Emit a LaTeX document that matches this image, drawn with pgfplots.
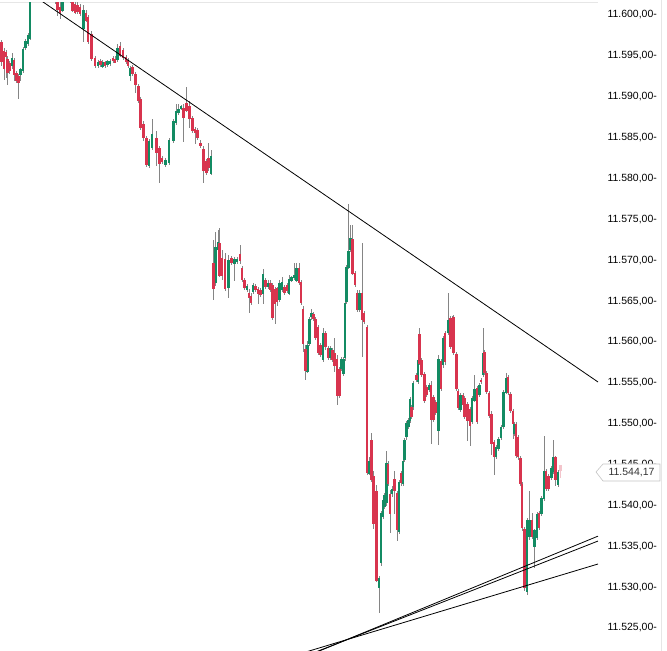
\documentclass[border=0pt]{standalone}
\usepackage{pgfplots}
\pgfplotsset{compat=1.18}
\usepackage{pgfplotstable}
\usepackage{fontspec}
\setmainfont{Liberation Sans}
\definecolor{cgreen}{HTML}{138B63}
\definecolor{cred}{HTML}{D8344E}
\definecolor{cpink}{HTML}{F3C4CB}
\definecolor{cwick}{HTML}{858585}
\definecolor{cgrid}{HTML}{E6E6E6}
\definecolor{ctag}{HTML}{C4C4C4}

\pgfplotstableread{
x o h l c
1.5 11596.70 11596.95 11593.76 11594.25
4 11595.72 11595.97 11592.05 11593.52
6 11595.48 11595.72 11592.30 11594.87
7.5 11594.74 11594.99 11591.44 11593.03
9.5 11594.25 11594.50 11592.91 11593.28
12 11593.76 11595.48 11593.52 11594.74
14 11594.62 11594.87 11592.05 11592.79
16.5 11592.91 11593.15 11591.69 11591.93
18.5 11592.66 11592.91 11589.85 11591.81
20.5 11592.66 11593.64 11592.05 11593.40
23 11593.28 11596.21 11593.03 11595.97
25.5 11595.97 11597.07 11595.72 11596.82
28 11596.58 11597.92 11596.33 11597.68
30 11597.19 11603.55 11596.95 11603.06
33 11603.06 11605.27 11602.82 11604.90
35.5 11604.90 11606.49 11604.53 11606.12
38 11606.12 11606.49 11604.90 11605.27
40.5 11605.27 11607.22 11605.02 11606.73
43 11606.73 11607.22 11605.27 11605.51
45.5 11605.51 11606.12 11603.68 11604.29
48 11604.29 11604.90 11603.06 11603.31
50.5 11603.31 11603.68 11602.21 11602.45
53 11602.57 11603.31 11602.21 11603.06
55.5 11602.82 11603.06 11601.47 11601.84
57.5 11601.60 11602.45 11600.00 11600.62
60 11601.11 11601.84 11599.64 11600.37
62.5 11600.62 11602.82 11600.37 11602.45
65 11602.45 11604.29 11602.21 11603.68
67.5 11603.68 11604.29 11602.45 11602.82
70 11602.82 11603.31 11601.60 11601.96
72.5 11601.84 11602.21 11600.37 11600.62
75 11601.47 11601.84 11600.13 11600.37
77.5 11601.23 11601.60 11600.13 11600.37
80 11601.11 11601.47 11600.00 11600.25
83.5 11598.41 11601.23 11596.70 11600.74
86 11600.37 11600.62 11599.15 11599.39
88 11599.76 11600.00 11596.46 11596.70
91.5 11597.80 11598.17 11594.50 11594.74
95 11594.87 11595.11 11593.64 11593.89
98 11593.76 11594.50 11593.52 11594.25
100.5 11594.38 11594.62 11593.64 11593.89
102.5 11593.64 11594.50 11593.52 11594.25
105 11594.25 11594.50 11593.64 11593.76
107.5 11593.89 11594.62 11593.76 11594.38
110 11594.13 11594.74 11593.89 11594.50
113 11594.87 11595.11 11594.25 11594.50
115 11594.74 11594.99 11594.13 11594.25
117.5 11594.50 11596.46 11594.25 11595.97
120 11596.33 11596.70 11594.87 11595.11
123 11595.72 11595.97 11594.50 11594.74
126 11594.99 11595.23 11594.13 11594.38
128 11594.50 11594.74 11593.52 11593.76
130 11592.66 11593.89 11592.05 11593.64
132.5 11593.64 11593.89 11592.54 11592.79
135.5 11592.91 11593.15 11590.58 11591.56
138.5 11591.44 11591.69 11589.36 11589.61
140.5 11589.85 11590.10 11586.06 11586.30
143.5 11586.79 11587.16 11584.71 11585.08
146.5 11584.96 11585.20 11581.41 11581.65
149 11581.65 11584.96 11581.41 11584.71
152 11583.85 11587.40 11583.61 11585.57
156.5 11585.08 11585.93 11581.65 11583.24
159.5 11583.85 11584.10 11579.57 11581.89
162 11582.51 11582.75 11581.77 11582.02
165.5 11581.65 11582.51 11581.41 11582.26
169 11581.89 11584.96 11581.65 11584.71
173.5 11584.71 11587.40 11584.47 11587.16
176 11586.91 11589.24 11586.67 11588.38
178.5 11588.14 11589.24 11587.89 11588.63
181 11588.63 11589.12 11588.50 11589.00
183.5 11588.63 11589.12 11584.47 11587.40
186.5 11589.36 11591.20 11588.14 11588.38
189.5 11589.00 11589.61 11586.30 11587.40
192.5 11587.53 11587.77 11585.69 11585.93
195 11586.18 11586.42 11584.34 11585.69
197.5 11585.93 11586.18 11584.71 11584.96
200.5 11584.47 11584.71 11583.73 11584.10
203.5 11583.73 11584.10 11579.57 11581.04
206.5 11582.26 11582.51 11580.55 11580.80
208.5 11582.63 11584.47 11581.04 11581.41
211 11580.67 11583.49 11580.43 11582.87
213.5 11569.78 11572.48 11565.14 11566.60
215.5 11567.21 11573.58 11566.97 11571.62
218 11571.25 11573.70 11571.01 11572.23
219.5 11572.23 11573.94 11567.95 11568.19
222 11570.39 11571.25 11567.58 11568.19
225 11570.27 11571.01 11566.36 11566.60
228.5 11566.60 11570.64 11565.38 11570.03
231.5 11570.39 11570.64 11569.54 11569.78
234.5 11569.66 11570.52 11567.58 11570.27
237 11569.91 11570.52 11569.66 11570.27
240 11570.76 11571.99 11569.66 11569.91
242 11569.05 11569.29 11567.34 11567.58
244.5 11567.58 11567.83 11566.36 11566.60
247 11566.36 11567.21 11566.11 11566.97
249 11566.11 11566.48 11563.54 11565.50
251 11565.75 11565.99 11564.52 11564.89
253 11566.11 11567.21 11565.87 11566.97
255.5 11566.97 11567.21 11566.11 11566.36
258 11566.60 11566.85 11564.77 11565.99
260.5 11566.36 11566.60 11565.50 11565.75
263 11565.99 11569.05 11564.77 11568.44
265.5 11567.58 11567.83 11566.48 11566.72
268 11566.72 11567.58 11566.48 11567.21
270.5 11567.21 11567.58 11566.11 11566.36
272.5 11566.97 11567.21 11562.69 11562.93
275 11566.60 11566.85 11562.32 11564.77
277 11566.60 11566.85 11564.52 11564.89
279.5 11565.14 11567.58 11564.89 11567.21
282 11566.36 11567.95 11566.11 11567.34
284.5 11566.72 11566.97 11565.75 11565.99
287 11567.09 11567.34 11566.11 11566.36
289 11565.99 11568.19 11565.75 11567.83
291.5 11567.58 11568.19 11567.34 11567.95
294 11567.83 11569.66 11567.58 11568.19
296.5 11567.58 11569.66 11567.34 11569.17
299 11569.17 11569.78 11567.09 11567.34
301 11567.34 11567.58 11564.52 11564.77
303 11564.16 11564.40 11558.77 11559.87
305.5 11559.26 11559.63 11555.35 11556.57
307.5 11556.57 11560.24 11556.33 11559.87
309.5 11559.87 11563.18 11559.63 11562.93
311.5 11563.06 11564.16 11562.81 11563.54
313.5 11563.54 11563.79 11562.69 11562.93
315.5 11562.93 11563.18 11560.36 11560.61
318 11561.83 11562.08 11558.41 11558.65
320.5 11559.63 11559.87 11558.16 11558.41
323 11557.79 11561.71 11557.55 11561.10
325.5 11561.10 11561.46 11559.14 11559.38
328 11559.38 11559.63 11557.92 11558.16
330.5 11558.16 11559.63 11557.92 11559.38
332.5 11559.02 11559.26 11557.55 11557.79
334.5 11558.77 11560.49 11556.33 11557.18
337 11558.04 11558.41 11552.29 11553.51
339.5 11556.81 11557.06 11553.27 11553.51
341.5 11556.81 11558.28 11556.57 11558.04
343.5 11556.20 11558.28 11555.96 11558.04
345 11558.04 11565.14 11557.79 11564.89
346.5 11564.89 11569.42 11564.65 11569.17
348.5 11569.17 11577.00 11568.93 11571.25
350.5 11571.25 11574.31 11571.01 11572.72
352.5 11572.72 11574.31 11568.19 11568.44
355 11568.44 11568.68 11566.72 11566.97
357 11565.99 11566.36 11563.67 11563.91
359.5 11563.91 11566.36 11563.67 11565.99
362 11565.99 11572.11 11558.16 11562.69
364 11563.54 11563.79 11562.20 11562.44
367 11561.83 11562.08 11543.72 11543.97
369.5 11543.97 11545.93 11543.72 11545.56
371.5 11548.01 11548.86 11542.87 11543.11
373.5 11543.72 11544.34 11537.24 11537.85
376.5 11541.89 11542.50 11530.63 11530.88
379 11529.90 11531.49 11526.96 11531.12
381 11532.95 11539.44 11532.71 11539.07
383 11538.58 11540.91 11538.34 11540.66
384.5 11539.81 11541.52 11539.56 11541.27
386.5 11540.30 11546.78 11540.05 11545.19
388 11545.19 11545.56 11542.50 11542.74
390 11541.52 11541.89 11536.63 11539.07
392 11541.52 11542.50 11541.27 11542.25
394.5 11543.36 11544.34 11539.07 11541.89
397 11541.52 11541.89 11535.77 11536.99
399 11536.75 11543.11 11536.51 11542.87
401 11543.97 11544.34 11542.50 11542.74
403 11542.74 11545.80 11542.50 11545.56
404.5 11545.56 11548.25 11545.31 11548.01
406.5 11548.37 11550.46 11548.13 11550.09
408.5 11549.60 11550.70 11549.35 11550.46
410 11550.46 11553.39 11550.21 11553.15
411.5 11552.05 11552.29 11550.58 11550.82
413 11552.05 11555.35 11551.80 11554.98
416.5 11555.96 11556.20 11555.10 11555.35
418 11555.10 11558.04 11554.86 11557.79
419.5 11561.10 11561.71 11557.18 11557.43
421.5 11557.79 11558.04 11555.71 11555.96
424.5 11556.20 11556.45 11552.66 11552.90
426.5 11554.49 11554.74 11553.27 11553.51
429 11554.13 11554.98 11553.88 11554.74
431 11554.74 11555.35 11547.64 11550.46
433.5 11553.27 11553.51 11550.21 11550.46
435.5 11552.66 11552.90 11551.07 11551.31
438.5 11549.23 11558.41 11547.40 11558.04
441 11557.79 11558.04 11554.13 11554.37
443 11557.18 11560.85 11556.94 11560.49
445 11561.10 11561.46 11557.31 11557.55
448 11561.10 11565.99 11560.85 11562.69
450.5 11562.93 11563.18 11559.14 11559.38
452 11562.69 11563.30 11562.44 11563.06
453.5 11563.06 11563.30 11558.41 11558.65
456.5 11558.65 11558.89 11554.13 11554.37
458 11554.13 11554.37 11551.80 11552.05
460.5 11551.68 11553.76 11551.43 11553.51
463 11553.51 11553.76 11552.05 11552.29
464.5 11553.15 11553.39 11550.58 11550.82
467.5 11552.53 11552.78 11548.01 11550.46
470 11551.92 11552.17 11547.40 11549.84
472 11550.21 11553.39 11549.96 11553.15
474.5 11552.90 11555.96 11552.66 11554.37
477 11554.37 11554.61 11549.96 11550.21
479.5 11553.51 11554.98 11553.27 11554.74
481 11555.35 11555.59 11554.86 11555.10
483 11555.96 11561.71 11555.71 11558.77
484.5 11558.77 11559.02 11555.96 11556.20
486.5 11556.20 11556.45 11553.64 11553.88
489 11553.88 11554.13 11550.82 11551.07
491.5 11551.31 11551.55 11546.17 11547.64
494 11547.76 11548.01 11543.72 11545.93
496 11545.93 11547.40 11545.68 11547.15
498.5 11547.03 11548.49 11546.78 11548.25
501 11548.25 11549.84 11548.01 11549.60
503.5 11549.60 11554.13 11549.35 11553.88
506 11553.88 11556.20 11553.64 11555.71
508 11555.71 11555.96 11553.51 11553.76
510.5 11553.76 11554.00 11551.43 11551.68
513 11551.68 11551.92 11548.25 11550.09
514.5 11548.86 11550.33 11548.62 11550.09
516 11550.09 11550.33 11545.93 11546.17
518 11548.37 11548.62 11545.56 11545.93
520.5 11545.93 11546.17 11542.50 11542.74
522 11542.74 11542.99 11536.99 11537.36
524.5 11537.24 11537.48 11529.65 11530.02
527 11529.41 11538.46 11529.04 11538.22
529.5 11536.14 11541.89 11535.89 11538.22
532 11538.22 11539.07 11535.89 11536.14
534.5 11534.91 11537.24 11532.46 11536.99
537 11536.14 11539.32 11535.89 11539.07
539 11539.19 11539.44 11537.11 11537.36
541.5 11539.07 11541.27 11538.83 11541.03
544 11540.91 11548.62 11540.66 11544.34
546 11544.34 11544.58 11541.89 11542.13
548.5 11543.72 11543.97 11541.89 11542.13
551.5 11543.48 11544.95 11543.23 11544.70
553 11544.09 11548.01 11543.85 11545.93
555.5 11545.93 11546.17 11542.50 11543.11
558 11542.50 11544.34 11542.25 11544.09
}\candles

\begin{document}
\begin{tikzpicture}
\useasboundingbox (0,0) rectangle (667bp,651bp);
\draw[cgrid, line width=1bp] (661bp,0) -- (661bp,651bp);
\draw[cgrid, line width=1bp] (0,648bp) -- (598bp,648bp);
\begin{axis}[
  at={(0,0)}, anchor=south west,
  scale only axis, width=598bp, height=648bp,
  xmin=0, xmax=598, ymin=11522.186, ymax=11601.47,
  axis line style={draw=none},
  xtick=\empty,
  scaled y ticks=false,
  ytick={11525,11530,11535,11540,11545,11550,11555,11560,11565,11570,11575,11580,11585,11590,11595,11600},
  ytick pos=right, major tick length=0pt,
  yticklabel pos=right,
  /pgf/number format/assume math mode=true,
  yticklabel style={anchor=east, xshift=59bp, inner sep=0pt, font=\fontsize{10.5}{12}\selectfont, text=black},
  yticklabel={\pgfmathprintnumber[fixed, fixed zerofill, precision=2, use comma, 1000 sep={.}]{\tick}-},
  clip=true,
]
% wicks
\addplot[draw=none, mark=none, forget plot,
  error bars/.cd, y dir=both, y explicit, error mark=none,
  error bar style={draw=cwick, line width=0.6bp}]
  table[x=x, y expr={(\thisrow{h}+\thisrow{l})/2}, y error expr={(\thisrow{h}-\thisrow{l})/2}] {\candles};
% green bodies
\addplot[draw=none, mark=none, forget plot,
  error bars/.cd, y dir=both, y explicit, error mark=none,
  error bar style={draw=cgreen, line width=2.1bp}]
  table[x=x, y expr={\thisrow{c}<\thisrow{o} ? nan : (\thisrow{o}+\thisrow{c})/2}, y error expr={max(abs(\thisrow{c}-\thisrow{o})/2,0.08)}] {\candles};
% red bodies
\addplot[draw=none, mark=none, forget plot,
  error bars/.cd, y dir=both, y explicit, error mark=none,
  error bar style={draw=cred, line width=2.1bp}]
  table[x=x, y expr={\thisrow{c}<\thisrow{o} ? (\thisrow{o}+\thisrow{c})/2 : nan}, y error expr={max(abs(\thisrow{c}-\thisrow{o})/2,0.08)}] {\candles};
% current candle
\addplot[draw=none, mark=none, forget plot,
  error bars/.cd, y dir=both, y explicit, error mark=none,
  error bar style={draw=cpink, line width=0.6bp}]
  coordinates {(560.5,11544.155) +- (0,0.80)};
\addplot[draw=none, mark=none, forget plot,
  error bars/.cd, y dir=both, y explicit, error mark=none,
  error bar style={draw=cpink, line width=2.1bp}]
  coordinates {(560.5,11544.56) +- (0,0.40)};
% trend lines
\addplot[black, line width=0.8bp] coordinates {(0,11605.20) (598,11555.10)};
\addplot[black, line width=0.8bp] coordinates {(310,11521.72) (598,11536.24)};
\addplot[black, line width=0.8bp] coordinates {(310,11521.79) (598,11535.64)};
\addplot[black, line width=0.8bp] coordinates {(300,11521.85) (598,11532.83)};
\end{axis}
% last price tag
\draw[ctag, fill=white, line width=0.6bp] (596bp,179bp) -- (603bp,187bp) -- (660bp,187bp) -- (660bp,170bp) -- (603bp,170bp) -- cycle;
\node[inner sep=0pt, font=\fontsize{10.5}{12}\selectfont, text=black!80] at (631.5bp,178.5bp) {11.544,17};
\end{tikzpicture}
\end{document}
